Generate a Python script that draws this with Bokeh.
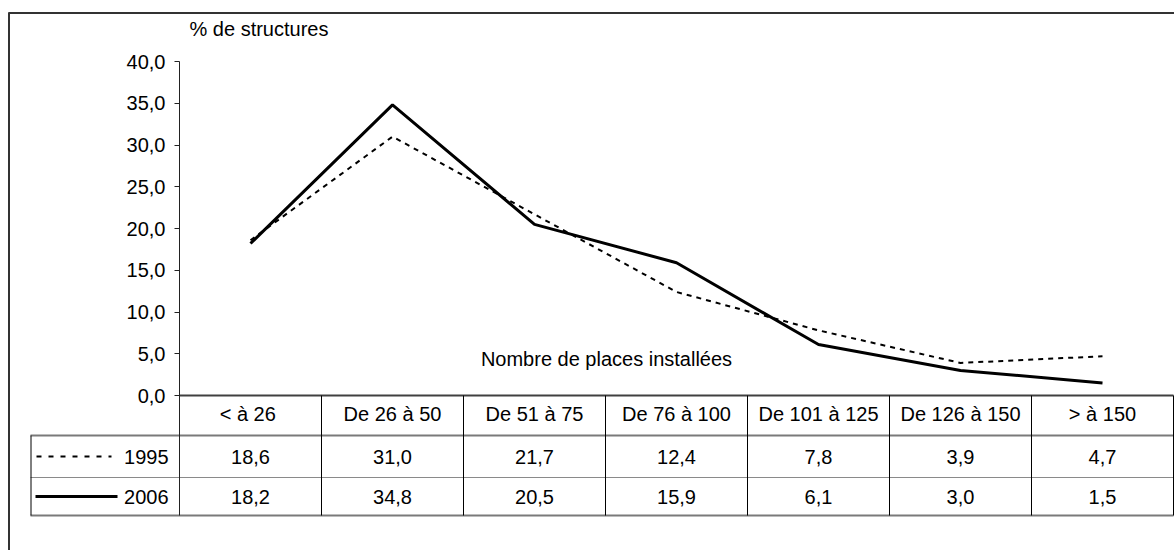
from bokeh.plotting import figure
from bokeh.models import LinearAxis, FixedTicker, CustomJSTickFormatter, Range1d
from bokeh.embed import file_html
from bokeh.resources import INLINE
from bokeh.core.properties import value

# ---------------- data ----------------
categories = ["< à  26", "De 26 à 50", "De 51 à 75", "De 76 à 100",
              "De 101 à 125", "De 126 à 150", "> à 150"]
series_names = ["1995", "2006"]
values_1995 = [18.6, 31.0, 21.7, 12.4, 7.8, 3.9, 4.7]
values_2006 = [18.2, 34.8, 20.5, 15.9, 6.1, 3.0, 1.5]
y_ticks = [0, 5, 10, 15, 20, 25, 30, 35, 40]
y_title = "% de structures"
x_title = "Nombre de places installées"

# ---------------- layout helpers (image pixels -> data units) ----------------
W, H = 1174, 550
PAGE = 0
AXIS_PX = 179.0     # image x of the value axis
COL_PX = 142.0      # width of one category column
ZERO_PX = 395.0     # image y of value 0
UNIT_PX = 8.35      # pixels per value unit


def fx(px):
    return (px - AXIS_PX) / COL_PX


def fy(py):
    return (ZERO_PX - py) / UNIT_PX


FONT = value("Liberation Sans")
FS = value("20px")

p = figure(width=W, height=H, output_backend="svg", toolbar_location=None,
           x_axis_location=None, y_axis_location=None,
           x_range=Range1d(fx(PAGE), fx(PAGE + W)),
           y_range=Range1d(fy(PAGE + H), fy(PAGE)),
           min_border=0, min_border_left=0, min_border_right=0,
           min_border_top=0, min_border_bottom=0)
p.outline_line_color = None
p.xgrid.visible = False
p.ygrid.visible = False
p.background_fill_color = "white"
p.border_fill_color = "white"

n = len(categories)
xc = [i + 0.5 for i in range(n)]

# ---------------- outer frame ----------------
p.segment(x0=[fx(8.5)], y0=[fy(12)], x1=[fx(8.5)], y1=[fy(PAGE + H)],
          line_color="#333333", line_width=2)
p.segment(x0=[fx(8)], y0=[fy(12.5)], x1=[fx(PAGE + W)], y1=[fy(12.5)],
          line_color="#333333", line_width=2)

# ---------------- value axis ----------------
row_top = fy(435)
row_mid = fy(477)
row_bot = fy(515)

ax = LinearAxis(fixed_location=0)
ax.ticker = FixedTicker(ticks=y_ticks)
ax.formatter = CustomJSTickFormatter(code="return tick.toFixed(1).replace('.', ',');")
ax.bounds = (row_bot, 40)
ax.axis_line_color = "#222222"
ax.axis_line_width = 1
ax.major_tick_out = 5
ax.major_tick_in = 0
ax.minor_tick_out = 0
ax.minor_tick_in = 0
ax.major_tick_line_color = "#222222"
ax.major_label_standoff = 9
ax.major_label_text_font = "Liberation Sans"
ax.major_label_text_font_size = "20px"
ax.major_label_text_color = "black"
p.add_layout(ax, "left")

# ---------------- data table grid ----------------
p.segment(x0=[0], y0=[0], x1=[n], y1=[0], line_color="#404040", line_width=2)
p.segment(x0=[fx(30)] * 2, y0=[row_top, row_bot], x1=[n] * 2, y1=[row_top, row_bot],
          line_color="#7a7a7a", line_width=2)
p.segment(x0=[fx(30)], y0=[row_mid], x1=[n], y1=[row_mid],
          line_color="#8a8a8a", line_width=1)
vx = list(range(1, n + 1))
p.segment(x0=vx, y0=[0] * n, x1=vx, y1=[row_bot] * n,
          line_color="black", line_width=1)
p.segment(x0=[fx(30.5)], y0=[row_top], x1=[fx(30.5)], y1=[row_bot],
          line_color="black", line_width=1)

# header row
p.text(x=xc, y=[fy(413)] * n, text=categories, text_align="center",
       text_baseline="middle", text_font=FONT, text_font_size=FS, text_color="black")


def fmt(v):
    return f"{v:.1f}".replace(".", ",")


p.text(x=xc, y=[fy(456)] * n, text=[fmt(v) for v in values_1995], text_align="center",
       text_baseline="middle", text_font=FONT, text_font_size=FS, text_color="black")
p.text(x=xc, y=[fy(496)] * n, text=[fmt(v) for v in values_2006], text_align="center",
       text_baseline="middle", text_font=FONT, text_font_size=FS, text_color="black")

# legend keys in the table
p.segment(x0=[fx(36)], y0=[fy(456)], x1=[fx(111)], y1=[fy(456)],
          line_color="black", line_width=2, line_dash="5 7")
p.segment(x0=[fx(35)], y0=[fy(496)], x1=[fx(117)], y1=[fy(496)],
          line_color="black", line_width=3)
p.text(x=[fx(168)] * 2, y=[fy(456), fy(496)], text=series_names, text_align="right",
       text_baseline="middle", text_font=FONT, text_font_size=FS, text_color="black")

# ---------------- series ----------------
p.line(xc, values_1995, line_color="black", line_width=2, line_dash="5 5")
p.line(xc, values_2006, line_color="black", line_width=3)

# ---------------- titles ----------------
p.text(x=[fx(189)], y=[fy(28)], text=[y_title], text_align="left",
       text_baseline="middle", text_font=FONT, text_font_size=FS, text_color="black")
p.text(x=[fx(606)], y=[fy(358)], text=[x_title], text_align="center",
       text_baseline="middle", text_font=FONT, text_font_size=FS, text_color="black")

open("out.html", "w").write(file_html(p, INLINE))
